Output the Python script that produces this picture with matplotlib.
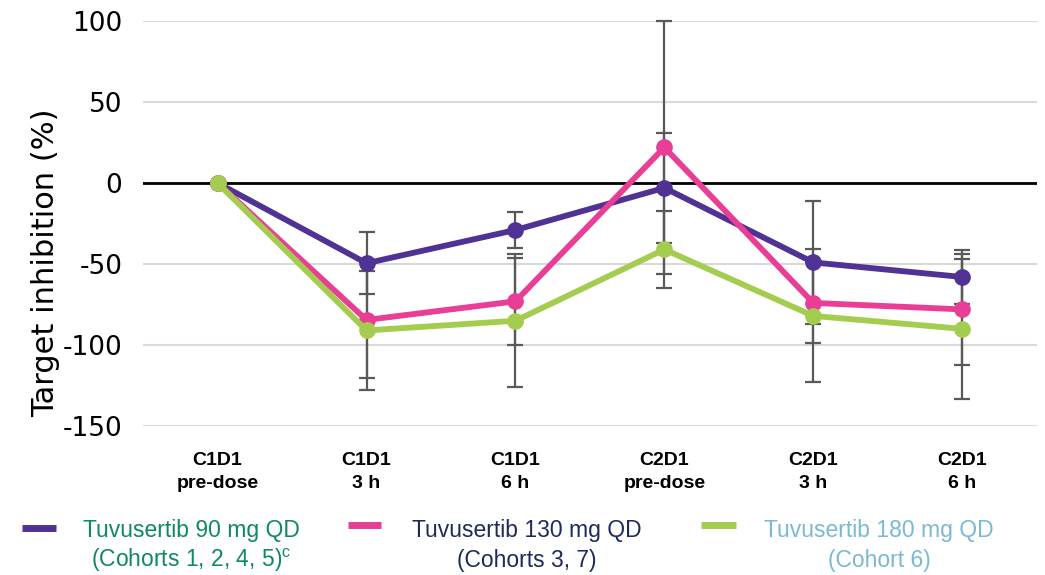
import matplotlib
matplotlib.use("Agg")
import matplotlib.pyplot as plt
from matplotlib.lines import Line2D

categories = ["C1D1\npre-dose", "C1D1\n3 h", "C1D1\n6 h", "C2D1\npre-dose", "C2D1\n3 h", "C2D1\n6 h"]
series_names = ["Tuvusertib 90 mg QD", "Tuvusertib 130 mg QD", "Tuvusertib 180 mg QD"]
series_sub = ["(Cohorts 1, 2, 4, 5)", "(Cohorts 3, 7)", "(Cohort 6)"]
v90 = [0, -49.5, -29, -3, -49, -58]
e90 = [0, 19, 11, 34, 38, 16.5]
v130 = [0, -84.5, -73, 22, -74, -78]
e130 = [0, 36, 27, 78, 25, 34]
v180 = [0, -91, -85, -41, -82, -90]
e180 = [0, 37, 41, 24, 41, 43]
yticks = [100, 50, 0, -50, -100, -150]

colors = ["#4F3294", "#E83E96", "#A4CC4E"]
text_colors = ["#0E8A5F", "#1F2A5A", "#7AB8D4"]
W, H = 1045, 575

fig = plt.figure(figsize=(10.45, 5.75), dpi=100)
ax = fig.add_axes([0.137, 0.259, 0.855, 0.7045])

x = list(range(len(categories)))
for vals, errs, c in zip([v90, v130, v180], [e90, e130, e180], colors):
    ax.errorbar(x, vals, yerr=errs, fmt="none", ecolor="#595959", elinewidth=1.6,
                capsize=6, capthick=1.6, zorder=2, clip_on=False)
for vals, c in zip([v90, v130, v180], colors):
    ax.plot(x, vals, color=c, lw=4.2, marker="o", ms=11, zorder=3, clip_on=False)

ax.set_xlim(-0.5, 5.5)
ax.set_ylim(-150, 100)
ax.set_yticks(yticks)
ax.set_yticklabels([str(t) for t in yticks], fontsize=19, family="DejaVu Sans")
ax.yaxis.grid(True, color="#D9D9D9", lw=1.5)
ax.set_axisbelow(True)
ax.axhline(0, color="black", lw=2, zorder=1.5)
ax.set_xticks(x)
ax.set_xticklabels(categories, fontsize=14, fontweight="bold",
                   family=["Liberation Sans", "DejaVu Sans"], linespacing=1.4)
ax.tick_params(axis="both", length=0)
ax.tick_params(axis="x", pad=19)
ax.tick_params(axis="y", pad=15)
for s in ax.spines.values():
    s.set_visible(False)
fig.text(46 / W, 1 - 263 / H, "Target inhibition (%)", rotation=90, ha="center",
         va="center", fontsize=22, family="DejaVu Sans")

# legend (manual layout)
handle_x = [(22, 56), (348, 381), (701, 736)]
handle_y = [527.5, 525, 524.5]
text_cx = [191, 527, 879]
for i in range(3):
    x0, x1 = handle_x[i]
    fig.add_artist(Line2D([x0 / W, x1 / W], [1 - handle_y[i] / H] * 2, color=colors[i], lw=5,
                          solid_capstyle="butt"))
    fig.text(text_cx[i] / W, 1 - 530 / H, series_names[i], ha="center", va="center",
             fontsize=16.5, color=text_colors[i], family=["Liberation Sans", "DejaVu Sans"])
    sub = series_sub[i] + ("$^{\\mathregular{c}}$" if i == 0 else "")
    fig.text(text_cx[i] / W, 1 - 560 / H, sub, ha="center", va="center",
             fontsize=16.5, color=text_colors[i], family=["Liberation Sans", "DejaVu Sans"])

fig.savefig("out.png", dpi=100)
